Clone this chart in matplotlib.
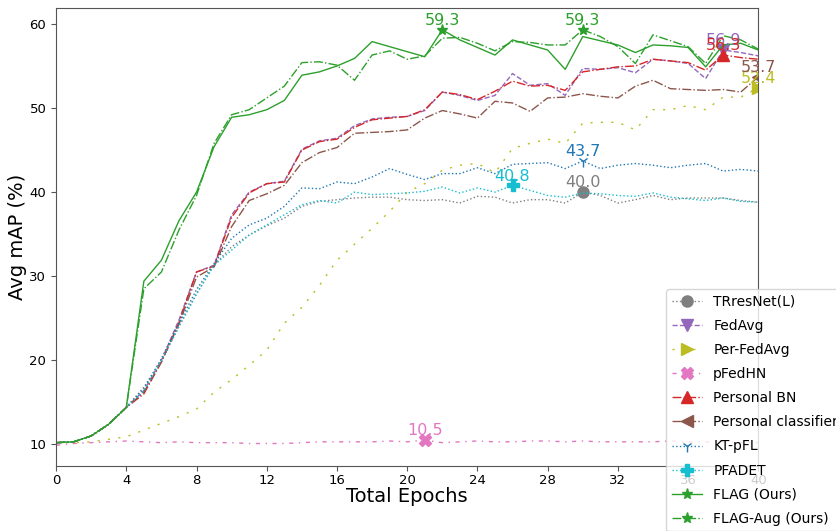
import numpy as np
from matplotlib import pyplot as plt

epochs = list(range(41))

trresnet = [10.2, 10.3, 11.0, 12.4, 14.4, 16.8, 20.0, 24.0, 27.9, 31.3, 33.5, 34.9, 36.0, 36.9, 38.3, 38.9, 39.1,
            39.3, 39.4, 39.4, 39.1, 39.0, 39.1, 38.7, 39.5, 39.4, 38.7, 39.1, 39.1, 38.7, 40.0, 39.6, 38.7, 39.1,
            39.6, 39.1, 39.3, 39.3, 39.3, 39.0, 38.8]
fedavg = [10.2, 10.3, 11.0, 12.4, 14.4, 16.4, 20.0, 24.8, 30.5, 31.3, 37.3, 40.0, 41.0, 41.3, 45.1, 46.1, 46.4,
          47.9, 48.7, 48.9, 49.0, 49.7, 51.9, 51.5, 50.9, 51.5, 54.1, 52.7, 52.9, 51.5, 54.7, 54.6, 54.8, 54.2,
          55.8, 55.6, 55.3, 53.5, 56.9, 56.6, 56.2]
per_fedavg = [10.2, 10.2, 10.3, 10.6, 10.9, 11.7, 12.5, 13.3, 14.2, 16.2, 17.7, 19.4, 21.2, 24.4, 26.3, 28.9, 31.9,
              33.8, 35.7, 37.7, 40.0, 41.0, 42.6, 43.2, 43.4, 42.3, 45.2, 45.8, 46.3, 45.8, 48.2, 48.3, 48.3, 47.4,
              49.8, 49.8, 50.3, 49.8, 51.3, 51.3, 52.4]
pfedhn = [9.9, 10.1, 10.2, 10.3, 10.4, 10.3, 10.2, 10.3, 10.2, 10.2, 10.2, 10.1, 10.1, 10.1, 10.2, 10.3, 10.3,
          10.3, 10.3, 10.4, 10.3, 10.5, 10.2, 10.3, 10.4, 10.3, 10.3, 10.4, 10.4, 10.3, 10.4, 10.3, 10.3, 10.3,
          10.3, 10.4, 10.3, 10.3, 10.3, 10.2, 10.2]
personal_bn = [10.2, 10.3, 11.0, 12.4, 14.4, 16.0, 19.8, 24.5, 30.5, 31.2, 37.0, 39.9, 41.0, 41.2, 45.0, 46.0, 46.3,
               47.7, 48.6, 48.8, 49.0, 49.8, 51.9, 51.6, 51.0, 52.0, 53.2, 52.6, 52.7, 52.1, 54.3, 54.6, 54.9, 55.0,
               55.8, 55.6, 55.4, 54.5, 56.3, 56.0, 55.8]
personal_cls = [10.2, 10.3, 11.0, 12.4, 14.4, 16.2, 19.8, 24.3, 29.9, 31.1, 35.9, 39.0, 39.8, 40.8, 43.5, 44.7, 45.3,
                47.0, 47.1, 47.2, 47.4, 48.8, 49.7, 49.3, 48.8, 50.8, 50.6, 49.6, 51.2, 51.3, 51.7, 51.4, 51.2, 52.6,
                53.3, 52.3, 52.2, 52.1, 52.2, 51.9, 53.7]
kt_pfl = [10.2, 10.3, 11.0, 12.4, 14.4, 16.6, 20.2, 24.4, 28.4, 31.5, 34.5, 36.1, 36.9, 38.3, 40.5, 40.4, 41.2,
          41.0, 41.8, 42.8, 42.1, 41.5, 42.2, 42.2, 42.9, 42.2, 43.3, 43.4, 43.5, 42.8, 43.7, 42.8, 43.2, 43.4,
          43.2, 42.9, 43.2, 43.4, 42.5, 42.7, 42.5]
pfadet = [10.2, 10.3, 11.0, 12.4, 14.4, 16.4, 20.0, 24.0, 27.9, 31.3, 33.1, 34.9, 36.1, 37.3, 38.5, 39.0, 38.7,
          40.0, 39.7, 39.8, 39.9, 40.1, 40.6, 39.9, 40.5, 40.0, 40.8, 40.2, 39.6, 39.4, 39.9, 39.8, 39.6, 39.5,
          39.9, 39.4, 39.2, 39.0, 39.3, 38.9, 38.8]
flag = [10.2, 10.3, 11.0, 12.4, 14.4, 29.4, 31.9, 36.6, 40.0, 45.4, 48.9, 49.2, 49.8, 50.9, 53.9, 54.3, 55.0,
        55.9, 57.9, 57.3, 56.7, 56.1, 59.3, 58.1, 57.2, 56.3, 58.1, 57.5, 56.9, 54.6, 58.5, 58.0, 57.5, 56.6,
        57.5, 57.4, 57.2, 54.9, 57.5, 57.7, 56.9]
flag_aug = [10.2, 10.3, 11.0, 12.4, 14.4, 28.5, 30.5, 35.5, 39.6, 45.8, 49.2, 49.8, 51.2, 52.6, 55.4, 55.5, 55.1,
            53.3, 56.3, 56.8, 55.8, 56.2, 58.3, 58.4, 57.7, 56.8, 57.9, 57.8, 57.5, 57.5, 59.3, 58.5, 57.3, 55.3,
            58.7, 58.0, 57.3, 55.3, 58.6, 58.1, 57.0]

# name, values, color, linestyle, marker, epoch to mark
series = [
    ("TRresNet(L)", trresnet, "tab:gray", ":", "o", 30),
    ("FedAvg", fedavg, "tab:purple", "--", "v", 38),
    ("Per-FedAvg", per_fedavg, "tab:olive", (0, (1.5, 6)), ">", 40),
    ("pFedHN", pfedhn, "tab:pink", (0, (3, 4, 1, 4)), "X", 21),
    ("Personal BN", personal_bn, "tab:red", "-.", "^", 38),
    ("Personal classifier", personal_cls, "tab:brown", "-.", "<", 40),
    ("KT-pFL", kt_pfl, "tab:blue", ":", "1", 30),
    ("PFADET", pfadet, "tab:cyan", ":", "P", 26),
    ("FLAG (Ours)", flag, "tab:green", "-", "*", 22),
    ("FLAG-Aug (Ours)", flag_aug, "tab:green", "-.", "*", 30),
]

fig = plt.figure(figsize=(8.37, 5.31), dpi=100)
ax = fig.add_axes([0.067, 0.122, 0.839, 0.863])

for name, vals, col, ls, mk, idx in series:
    ax.plot(epochs, vals, color=col, linestyle=ls, linewidth=1.0, marker=mk, markersize=8,
            markevery=[idx], label=name)
    ax.text(epochs[idx], vals[idx] + 0.2, "%.1f" % vals[idx], color=col, fontsize=11.5,
            ha="center", va="bottom")

ax.set_xlim(0, 40)
ax.set_ylim(7.4, 61.9)
ax.set_xticks(np.arange(0, 41, 4))
ax.set_yticks(np.arange(10, 61, 10))
ax.tick_params(labelsize=9.5, color="#555555", length=3.5)
ax.tick_params(axis="x", pad=2)
for sp in ax.spines.values():
    sp.set_color("#555555")
ax.set_xlabel("Total Epochs", fontsize=14, labelpad=0)
ax.set_ylabel("Avg mAP (%)", fontsize=14, labelpad=2)

ax.legend(loc="upper left", bbox_to_anchor=(666 / 837, 1 - 289 / 531), bbox_transform=fig.transFigure,
          fontsize=10, handlelength=2.2, labelspacing=0.73, borderaxespad=0)

fig.savefig("out.png", dpi=100)
